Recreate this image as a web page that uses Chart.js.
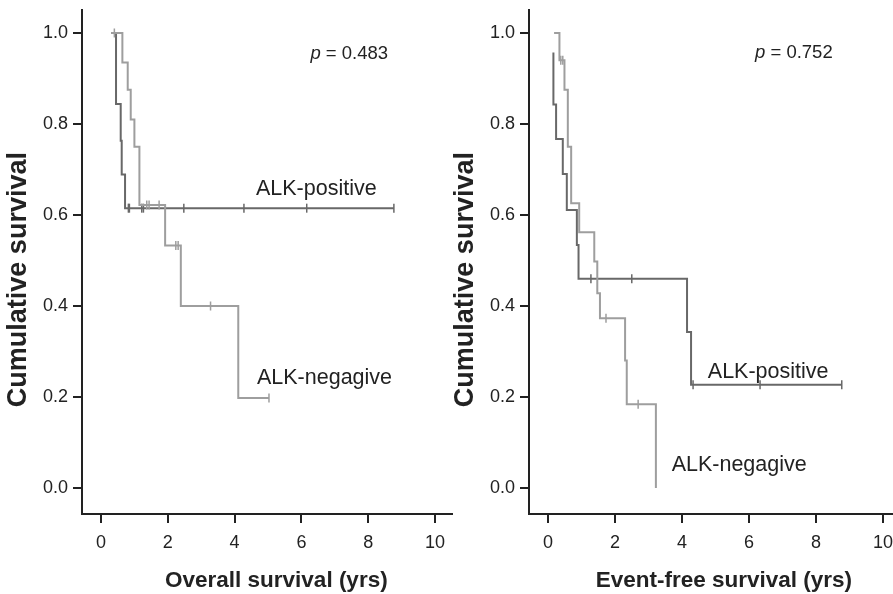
<!DOCTYPE html>
<html>
<head>
<meta charset="utf-8">
<script src="https://cdn.jsdelivr.net/npm/chart.js@4.4.1/dist/chart.umd.min.js"></script>
<style>
  html, body { margin: 0; padding: 0; background: #fff; }
  #wrap { position: relative; width: 893px; height: 594px; overflow: hidden; background: #fff; }
  canvas { position: absolute; top: 0; }
  #os { left: 0; }
  #efs { left: 446px; }
</style>
</head>
<body>
<div id="wrap">
  <canvas id="os" width="455" height="594"></canvas>
  <canvas id="efs" width="447" height="594"></canvas>
</div>
<script>
const xTicks = [0, 2, 4, 6, 8, 10];
const yTicks = [0, 0.2, 0.4, 0.6, 0.8, 1.0];

// overall survival
const osPosTime = [0.30, 0.45, 0.59, 0.62, 0.72, 8.77];
const osPosSurv = [1.0, 0.844, 0.763, 0.689, 0.615, 0.615];
const osPosCens = [0.82, 0.85, 1.22, 1.27, 2.48, 4.28, 6.16, 8.77];
const osNegTime = [0.30, 0.64, 0.80, 0.89, 1.00, 1.15, 1.92, 2.39, 4.11, 5.03];
const osNegSurv = [1.0, 0.935, 0.875, 0.81, 0.75, 0.622, 0.533, 0.40, 0.198, 0.198];
const osNegCens = [0.40, 1.37, 1.44, 1.74, 2.24, 2.31, 3.28, 5.03];

// event-free survival
const efsPosTime = [0.16, 0.16, 0.24, 0.44, 0.56, 0.86, 0.91, 4.15, 4.27, 8.77];
const efsPosSurv = [0.957, 0.843, 0.767, 0.69, 0.611, 0.534, 0.46, 0.343, 0.227, 0.227];
const efsPosCens = [1.28, 2.50, 4.33, 6.33, 8.77];
const efsNegTime = [0.18, 0.34, 0.49, 0.59, 0.69, 0.93, 1.38, 1.47, 1.55, 2.30, 2.35, 3.22];
const efsNegSurv = [1.0, 0.94, 0.875, 0.75, 0.626, 0.562, 0.498, 0.428, 0.373, 0.28, 0.184, 0.0];
const efsNegCens = [0.38, 0.44, 1.73, 2.69];

const posColor = '#686868';
const negColor = '#9e9e9e';
const ink = '#222';
const family = '"Liberation Sans", Arial, Helvetica, sans-serif';

function survAt(times, surv, t) {
  let s = surv[0];
  for (let i = 0; i < times.length; i++) {
    if (times[i] <= t) s = surv[i];
  }
  return s;
}

function curve(times, surv, color) {
  return {
    data: times.map((t, i) => ({ x: t, y: surv[i] })),
    borderColor: color,
    borderWidth: 2,
    stepped: true,
    pointRadius: 0,
    fill: false
  };
}

function marks(cens, times, surv, color) {
  return {
    data: cens.map(t => ({ x: t, y: survAt(times, surv, t) })),
    showLine: false,
    pointStyle: 'line',
    rotation: 90,
    pointRadius: 4.5,
    borderColor: color,
    backgroundColor: color,
    borderWidth: 1.5
  };
}

const kmText = {
  id: 'kmText',
  afterDraw(chart, args, opts) {
    const { ctx, chartArea } = chart;
    const x = chart.scales.x, y = chart.scales.y;
    ctx.save();
    ctx.fillStyle = ink;

    ctx.font = 'bold 22.5px ' + family;
    ctx.textAlign = 'center';
    ctx.textBaseline = 'alphabetic';
    ctx.fillText(opts.xTitle, x.getPixelForValue(5.25), chart.height - 7);

    ctx.save();
    ctx.translate(chartArea.left - 63, y.getPixelForValue(0.458));
    ctx.rotate(-Math.PI / 2);
    ctx.textBaseline = 'middle';
    ctx.font = 'bold 27px ' + family;
    ctx.fillText(opts.yTitle, 0, 0);
    ctx.restore();

    ctx.textAlign = 'left';
    ctx.font = '21.5px ' + family;
    opts.labels.forEach(l => {
      ctx.fillText(l.text, x.getPixelForValue(l.x), y.getPixelForValue(l.y));
    });

    const px = x.getPixelForValue(opts.p.x), py = y.getPixelForValue(opts.p.y);
    ctx.font = 'italic 18.5px ' + family;
    ctx.fillText('p', px, py);
    const w = ctx.measureText('p').width;
    ctx.font = '18.5px ' + family;
    ctx.fillText(' = ' + opts.p.text, px + w, py);
    ctx.restore();
  }
};

function makeChart(id, datasets, xMax, yWidth, rightPad, text) {
  return new Chart(document.getElementById(id), {
    type: 'line',
    data: { datasets },
    options: {
      responsive: false,
      animation: false,
      events: [],
      layout: { autoPadding: false, padding: { top: 10, right: rightPad, left: 0, bottom: 0 } },
      plugins: { legend: { display: false }, tooltip: { enabled: false }, kmText: text },
      scales: {
        x: {
          type: 'linear',
          min: -0.569,
          max: xMax,
          afterBuildTicks: s => { s.ticks = xTicks.map(v => ({ value: v })); },
          afterFit: s => { s.height = 80; s.paddingLeft = 0; s.paddingRight = 0; },
          grid: { drawOnChartArea: false, drawTicks: true, tickLength: 9, color: ink, lineWidth: 2 },
          border: { display: true, color: ink, width: 2 },
          ticks: { color: ink, font: { family, size: 18 }, padding: 9, maxRotation: 0, autoSkip: false, callback: v => String(v) }
        },
        y: {
          min: -0.0571,
          max: 1.0505,
          afterBuildTicks: s => { s.ticks = yTicks.map(v => ({ value: v })); },
          afterFit: s => { s.width = yWidth; s.paddingTop = 0; s.paddingBottom = 0; },
          grid: { drawOnChartArea: false, drawTicks: true, tickLength: 9, color: ink, lineWidth: 2 },
          border: { display: true, color: ink, width: 2 },
          ticks: { color: ink, font: { family, size: 18 }, padding: 5, autoSkip: false, callback: v => v.toFixed(1) }
        }
      }
    },
    plugins: [kmText]
  });
}

makeChart('os', [
  curve(osNegTime, osNegSurv, negColor),
  marks(osNegCens, osNegTime, osNegSurv, negColor),
  curve(osPosTime, osPosSurv, posColor),
  marks(osPosCens, osPosTime, osPosSurv, posColor)
], 10.51, 82, 3, {
  xTitle: 'Overall survival (yrs)',
  yTitle: 'Cumulative survival',
  labels: [
    { text: 'ALK-positive', x: 4.64, y: 0.643 },
    { text: 'ALK-negagive', x: 4.67, y: 0.228 }
  ],
  p: { text: '0.483', x: 6.27, y: 0.943 }
});

makeChart('efs', [
  curve(efsNegTime, efsNegSurv, negColor),
  marks(efsNegCens, efsNegTime, efsNegSurv, negColor),
  curve(efsPosTime, efsPosSurv, posColor),
  marks(efsPosCens, efsPosTime, efsPosSurv, posColor)
], 10.30, 83, 0, {
  xTitle: 'Event-free survival (yrs)',
  yTitle: 'Cumulative survival',
  labels: [
    { text: 'ALK-positive', x: 4.77, y: 0.242 },
    { text: 'ALK-negagive', x: 3.69, y: 0.037 }
  ],
  p: { text: '0.752', x: 6.18, y: 0.945 }
});
</script>
</body>
</html>
